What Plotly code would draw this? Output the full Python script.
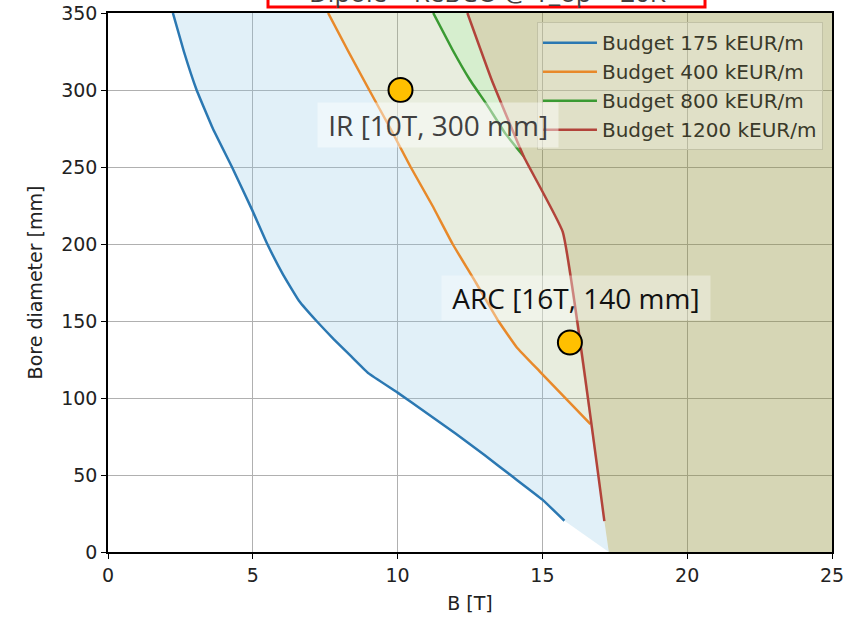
import plotly.graph_objects as go

# ---- data ----
blue_B = [2.24, 2.62, 3.06, 3.62, 4.28, 4.98, 5.5, 6.05, 6.6, 7.2, 7.8, 8.4, 9.0, 10.0, 11.0, 12.0, 13.0, 14.0, 15.0, 15.76]
blue_D = [350, 325, 300, 275, 250, 222, 200, 180, 163, 150, 138, 127, 116, 103.5, 90.3, 77, 63, 48.5, 34, 20.3]

orange_B = [7.6, 8.3, 9.02, 9.75, 10.45, 11.2, 11.9, 12.7, 13.48, 14.11, 14.92, 16.66]
orange_D = [350, 325, 300, 275, 250, 225, 200, 175, 150, 133, 117, 83]

green_B = [11.23, 11.9, 12.5, 13.1, 13.71, 14.35]
green_D = [350, 326, 306.5, 290, 272, 257]

red_B = [12.41, 13.25, 14.35, 15.7, 17.14]
red_D = [350, 306.5, 257, 208, 20]

names = ["Budget 175 kEUR/m", "Budget 400 kEUR/m", "Budget 800 kEUR/m", "Budget 1200 kEUR/m"]
line_colors = ["#2b78b2", "#e8892a", "#3a9a32", "#b2433a"]

points_B = [10.1, 15.95]
points_D = [300, 136]
point_labels = ["IR [10T, 300 mm]", "ARC [16T, 140 mm]"]

x_ticks = [0, 5, 10, 15, 20, 25]
y_ticks = [0, 50, 100, 150, 200, 250, 300, 350]
X_MAX, Y_MAX = 25, 350

# red boundary extrapolated down to D = 0
red_x0 = red_B[-1] + (red_B[-1] - red_B[-2]) / (red_D[-2] - red_D[-1]) * red_D[-1]

# ---- fill polygons built from the curves ----
blue_px = blue_B + [red_x0, red_B[-1]] + orange_B[::-1]
blue_py = blue_D + [0, red_D[-1]] + orange_D[::-1]

mid_red = [(b, d) for b, d in zip(red_B, red_D) if orange_D[-1] < d < green_D[-1]]
mid_red = sorted(mid_red, key=lambda p: p[1])
orange_px = orange_B + [p[0] for p in mid_red] + green_B[::-1]
orange_py = orange_D + [p[1] for p in mid_red] + green_D[::-1]

top_red = [(b, d) for b, d in zip(red_B, red_D) if d > green_D[-1]]
top_red = sorted(top_red, key=lambda p: p[1])
green_px = green_B + [p[0] for p in top_red]
green_py = green_D + [p[1] for p in top_red]

tan_px = red_B + [red_x0, X_MAX, X_MAX]
tan_py = red_D + [0, 0, Y_MAX]

fig = go.Figure()

fills = [
    (blue_px, blue_py, "rgba(135,195,227,0.25)"),
    (orange_px, orange_py, "rgba(163,183,123,0.25)"),
    (green_px, green_py, "rgba(91,187,59,0.25)"),
    (tan_px, tan_py, "rgba(138,138,44,0.35)"),
]
for px, py, col in fills:
    fig.add_trace(go.Scatter(x=px, y=py, mode="lines", fill="toself", fillcolor=col,
                             line=dict(width=0), showlegend=False, hoverinfo="skip"))

for bx, dy, nm, col in zip([blue_B, orange_B, green_B, red_B],
                           [blue_D, orange_D, green_D, red_D], names, line_colors):
    fig.add_trace(go.Scatter(x=bx, y=dy, mode="lines", name=nm,
                             line=dict(color=col, width=2.5, shape="spline", smoothing=0.3)))

fig.add_trace(go.Scatter(x=points_B, y=points_D, mode="markers", showlegend=False,
                         marker=dict(size=24, color="#ffc000", line=dict(color="black", width=2))))

# labels for the two design points
fig.add_annotation(x=11.4, y=277, xref="x", yref="y", text="&nbsp;" + point_labels[0] + "&nbsp;",
                   showarrow=False, font=dict(family="Open Sans", size=28, color="#404040"),
                   bgcolor="rgba(255,255,255,0.45)", borderpad=3)
fig.add_annotation(x=16.16, y=165, xref="x", yref="y", text="&nbsp;" + point_labels[1] + "&nbsp;",
                   showarrow=False, font=dict(family="Open Sans", size=28, color="#111111"),
                   bgcolor="rgba(255,255,255,0.35)", borderpad=3)

# clipped title box at the very top
fig.add_shape(type="rect", xref="paper", yref="paper", x0=0.221, x1=0.8246, y0=1.0111, y1=1.2,
              line=dict(color="#ff0000", width=3), fillcolor="white", layer="above")
fig.add_annotation(x=0.5235, y=1.0015, xref="paper", yref="paper", yanchor="bottom",
                   text="Dipole – ReBCO @ T_op = 20K", showarrow=False,
                   font=dict(family="Open Sans", size=26, color="#404040"))

axis_common = dict(showgrid=True, gridcolor="#b0b0b0", gridwidth=1, showline=True,
                   linecolor="black", linewidth=1.5, mirror=True, ticks="outside",
                   ticklen=5, tickwidth=1.2, tickcolor="black", zeroline=False,
                   automargin=False,
                   tickfont=dict(family="DejaVu Sans", size=19, color="#222222"))

fig.update_xaxes(range=[0, X_MAX], tickvals=x_ticks, ticktext=[str(v) for v in x_ticks],
                 title=dict(text="B [T]", font=dict(family="DejaVu Sans", size=19, color="#222222"),
                            standoff=12), **axis_common)
fig.update_yaxes(range=[0, Y_MAX], tickvals=y_ticks, ticktext=[str(v) for v in y_ticks],
                 title=dict(text="Bore diameter [mm]", font=dict(family="DejaVu Sans", size=19, color="#222222"),
                            standoff=14), **axis_common)

fig.update_layout(
    width=846, height=618,
    margin=dict(l=108, r=14, t=13, b=66),
    paper_bgcolor="white", plot_bgcolor="white",
    showlegend=True,
    legend=dict(x=0.5925, y=0.983, xanchor="left", yanchor="top",
                bgcolor="rgba(255,255,255,0.25)", bordercolor="#c2c2a6", borderwidth=1,
                font=dict(family="DejaVu Sans", size=20, color="#3a3a2a"),
                tracegroupgap=0, itemwidth=54),
)

fig.write_html("out.html")
